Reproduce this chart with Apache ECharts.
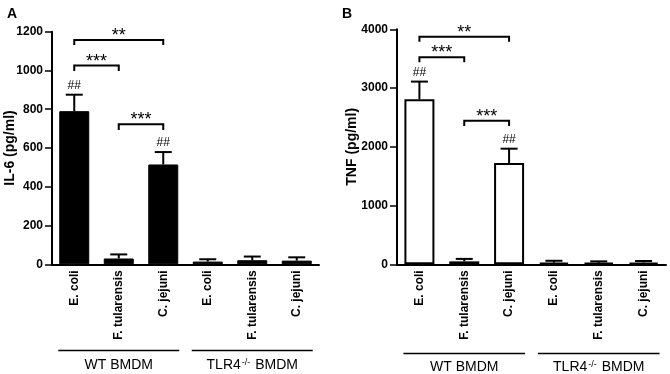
<!DOCTYPE html>
<html>
<head>
<meta charset="utf-8">
<script src="https://cdn.jsdelivr.net/npm/echarts@6/dist/echarts.min.js"></script>
<style>
html, body { margin: 0; padding: 0; background: #fff; }
#chart { width: 670px; height: 374px; }
</style>
</head>
<body>
<div id="chart"></div>
<script>
const categories = ['E. coli', 'F. tularensis', 'C. jejuni', 'E. coli', 'F. tularensis', 'C. jejuni']
const groupNames = ['WT BMDM', 'TLR4-/- BMDM']
// IL-6 (panel A)
const il6Mean = [790, 30, 515, 14, 21, 19]
const il6Err = [85, 21, 64, 12, 19, 17]
const il6Hash = ['##', '', '##', '', '', '']
// TNF (panel B)
const tnfMean = [2810, 50, 1725, 28, 25, 30]
const tnfErr = [300, 42, 243, 32, 25, 26]
const tnfHash = ['##', '', '##', '', '', '']
// significance brackets: [from, to, line y, tick end y]
const il6Sig = [[0, 2, 1157, 1131], [0, 1, 1025, 997], [1, 2, 722, 693]]
const il6SigText = ['**', '***', '***']
const tnfSig = [[0, 2, 3874, 3789], [0, 1, 3523, 3438], [1, 2, 2444, 2353]]
const tnfSigText = ['**', '***', '***']

const font = "'Liberation Sans', Arial, sans-serif"

function errorItem(hash) {
  return function (params, api) {
    const x = api.value(0)
    const m = api.value(1)
    const e = api.value(2)
    const base = api.coord([x, m])
    const top = api.coord([x, m + e])
    const half = 8.5
    const children = [
      { type: 'line', shape: { x1: base[0], y1: base[1], x2: top[0], y2: top[1] }, style: { stroke: '#000', lineWidth: 2 } },
      { type: 'line', shape: { x1: top[0] - half, y1: top[1], x2: top[0] + half, y2: top[1] }, style: { stroke: '#000', lineWidth: 2 } },
    ]
    if (hash[params.dataIndex]) {
      children.push({
        type: 'text', x: top[0], y: top[1] - 3,
        style: { text: hash[params.dataIndex], fill: '#000', font: '12px ' + font, align: 'center', verticalAlign: 'bottom' },
      })
    }
    return { type: 'group', children }
  }
}

function bracketItem(labels) {
  return function (params, api) {
    const a = api.coord([api.value(0), api.value(2)])
    const b = api.coord([api.value(1), api.value(2)])
    const tb = api.coord([api.value(0), api.value(3)])[1]
    return {
      type: 'group',
      children: [
        { type: 'polyline', shape: { points: [[a[0], tb], [a[0], a[1]], [b[0], b[1]], [b[0], tb]] }, style: { stroke: '#000', lineWidth: 2, fill: null } },
        { type: 'text', x: (a[0] + b[0]) / 2, y: a[1] - 4, style: { text: labels[params.dataIndex], fill: '#000', font: '18px ' + font, align: 'center', verticalAlign: 'middle' } },
      ],
    }
  }
}

function xAxisOpt(gridIndex) {
  return {
    type: 'category', gridIndex, data: categories,
    axisLine: { lineStyle: { color: '#000', width: 2 } },
    axisTick: { alignWithLabel: true, length: 5, lineStyle: { color: '#000', width: 1.5 } },
    axisLabel: { rotate: 90, color: '#000', fontWeight: 'bold', fontSize: 12, fontFamily: font, margin: 6, interval: 0 },
  }
}

function yAxisOpt(gridIndex, max, interval, name, gap) {
  return {
    type: 'value', gridIndex, min: 0, max, interval, name,
    nameLocation: 'middle', nameGap: gap, nameMoveOverlap: false,
    nameTextStyle: { color: '#000', fontWeight: 'bold', fontSize: 14, fontFamily: font },
    splitLine: { show: false },
    axisLine: { show: true, lineStyle: { color: '#000', width: 2 } },
    axisTick: { show: true, length: 7, lineStyle: { color: '#000', width: 1.5 } },
    axisLabel: { color: '#000', fontWeight: 'bold', fontSize: 12, fontFamily: font, margin: 9, formatter: (v) => String(v) },
  }
}

const chart = echarts.init(document.getElementById('chart'))
chart.setOption({
  animation: false,
  backgroundColor: '#fff',
  grid: [
    { left: 52, right: 351, top: 31.7, bottom: 109.7, outerBoundsMode: 'none' },
    { left: 397, right: 4, top: 29.3, bottom: 109.7, outerBoundsMode: 'none' },
  ],
  xAxis: [xAxisOpt(0), xAxisOpt(1)],
  yAxis: [
    yAxisOpt(0, 1200, 200, 'IL-6 (pg/ml)', 35),
    yAxisOpt(1, 4000, 1000, 'TNF (pg/ml)', 38),
  ],
  title: [
    { text: 'A', left: 2, top: 2, textStyle: { fontSize: 14, fontWeight: 'bold', fontFamily: font, color: '#000' } },
    { text: 'B', left: 337, top: 2, textStyle: { fontSize: 14, fontWeight: 'bold', fontFamily: font, color: '#000' } },
  ],
  series: [
    {
      type: 'bar', xAxisIndex: 0, yAxisIndex: 0, data: il6Mean, barWidth: 30,
      itemStyle: { color: '#000', borderColor: '#000', borderWidth: 1 },
    },
    {
      type: 'custom', xAxisIndex: 0, yAxisIndex: 0, renderItem: errorItem(il6Hash),
      data: il6Mean.map((v, i) => [i, v, il6Err[i]]), z: 3,
    },
    {
      type: 'custom', xAxisIndex: 0, yAxisIndex: 0, renderItem: bracketItem(il6SigText),
      data: il6Sig, z: 3,
    },
    {
      type: 'bar', xAxisIndex: 1, yAxisIndex: 1, data: tnfMean, barWidth: 30,
      itemStyle: { color: '#fff', borderColor: '#000', borderWidth: 2 },
    },
    {
      type: 'custom', xAxisIndex: 1, yAxisIndex: 1, renderItem: errorItem(tnfHash),
      data: tnfMean.map((v, i) => [i, v, tnfErr[i]]), z: 3,
    },
    {
      type: 'custom', xAxisIndex: 1, yAxisIndex: 1, renderItem: bracketItem(tnfSigText),
      data: tnfSig, z: 3,
    },
  ],
})

// group lines + labels under the category labels
const graphics = []
;[[0, 350.5, 365], [1, 353.5, 367.5]].forEach(([ax, lineY, textY]) => {
  const groupsIdx = [[0, 2], [3, 5]]
  groupsIdx.forEach(([a, b], gi) => {
    const xa = chart.convertToPixel({ xAxisIndex: ax }, a) - 16
    const xb = chart.convertToPixel({ xAxisIndex: ax }, b) + 16
    graphics.push({ type: 'line', shape: { x1: xa, y1: lineY, x2: xb, y2: lineY }, style: { stroke: '#000', lineWidth: 1.5 } })
    const rich = gi === 0
      ? { text: groupNames[0], font: '14px ' + font }
      : { text: '{n|TLR4}{s|-/-}{n| BMDM}', rich: { n: { fontSize: 14, fontFamily: font, verticalAlign: 'bottom' }, s: { fontSize: 9, fontFamily: font, verticalAlign: 'top', padding: [0, 1, 0, 1] } } }
    graphics.push({
      type: 'text', x: (xa + xb) / 2, y: textY,
      style: Object.assign({ fill: '#000', align: 'center', verticalAlign: 'middle' }, rich),
    })
  })
})
chart.setOption({ graphic: graphics })
</script>
</body>
</html>
